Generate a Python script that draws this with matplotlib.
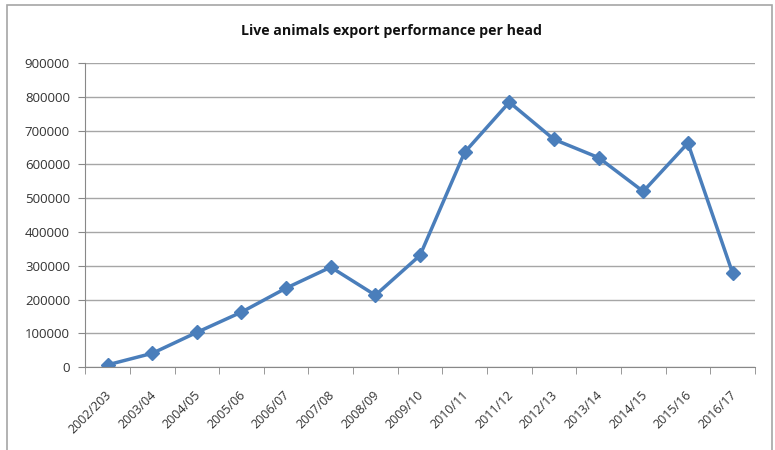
import matplotlib.pyplot as plt
import matplotlib.transforms as mtransforms
from matplotlib.patches import Rectangle

# Data
seasons = ['2002/203', '2003/04', '2004/05', '2005/06', '2006/07', '2007/08',
           '2008/09', '2009/10', '2010/11', '2011/12', '2012/13', '2013/14',
           '2014/15', '2015/16', '2016/17']
heads = [7000, 41000, 103000, 163000, 234000, 296000, 213000, 331000,
         636000, 784000, 674000, 620000, 520000, 663000, 279000]

fig = plt.figure(figsize=(7.75, 4.5), dpi=100)
ax = fig.add_axes([0.110, 0.184, 0.864, 0.676])

# chart-area border like the Excel frame
fig.patches.append(Rectangle((7 / 775, -0.05), 765 / 775, 1.05 - 5 / 450,
                             transform=fig.transFigure, fill=False,
                             edgecolor='#a6a6a6', linewidth=1.2))

x = list(range(len(seasons)))
ax.plot(x, heads, color='#4a7ebb', linewidth=2.5, marker='D',
        markersize=7, markerfacecolor='#4a7ebb', markeredgecolor='#4a7ebb')

ax.set_xlim(-0.5, len(seasons) - 0.5)
ax.set_ylim(0, 900000)
ax.set_yticks(range(0, 900001, 100000))
ax.yaxis.grid(True, color='#a6a6a6', linewidth=1)
ax.set_axisbelow(True)

ax.set_xticks(x)
ax.set_xticklabels(seasons, rotation=45, ha='right', rotation_mode='anchor',
                   fontsize=9, color='#333333', family='Open Sans')
ax.tick_params(axis='x', length=0, pad=15)
shift = mtransforms.ScaledTranslation(-2 / 72, 0, fig.dpi_scale_trans)
for lbl in ax.get_xticklabels():
    lbl.set_transform(lbl.get_transform() + shift)
# category boundary tick marks
ax.set_xticks([i - 0.5 for i in range(len(seasons) + 1)], minor=True)
ax.tick_params(axis='x', which='minor', length=5, color='#888888')
ax.tick_params(axis='y', length=5, color='#888888', labelsize=9.5,
               labelcolor='#333333', pad=6)
for lbl in ax.get_yticklabels():
    lbl.set_family('Open Sans')

for side in ['top', 'right']:
    ax.spines[side].set_visible(False)
for side in ['left', 'bottom']:
    ax.spines[side].set_color('#888888')

fig.text(0.505, 0.93, 'Live animals export performance per head',
         ha='center', va='center', fontsize=10.2, fontweight='bold',
         family='Open Sans', color='#111111')

fig.savefig('out.png', dpi=100)
